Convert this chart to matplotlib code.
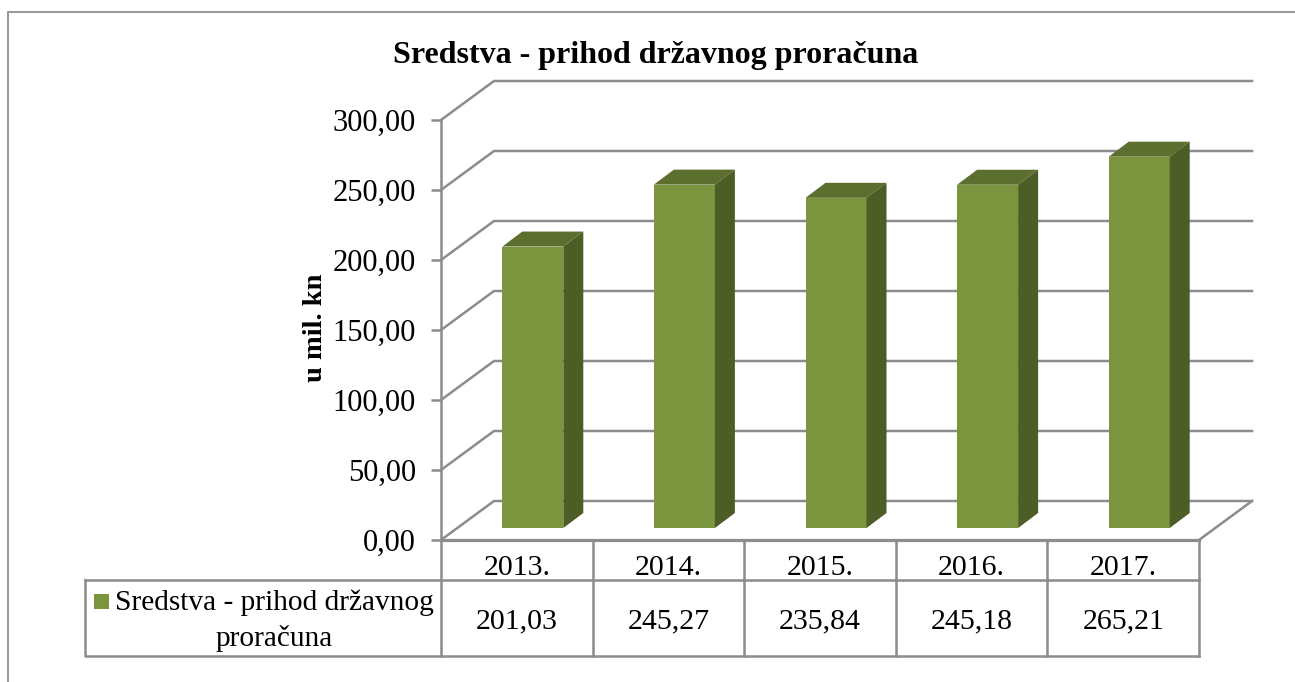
"""
Sredstva - prihod drzavnog proracuna: fake-3D column chart with data table
"""
import matplotlib
matplotlib.use('Agg')
import matplotlib.pyplot as plt
from matplotlib.patches import Polygon, Rectangle

plt.rcParams['font.family'] = ['Liberation Serif', 'DejaVu Serif']

years = ['2013.', '2014.', '2015.', '2016.', '2017.']
values = [201.03, 245.27, 235.84, 245.18, 265.21]
y_ticks = [0, 50, 100, 150, 200, 250, 300]
series_name = 'Sredstva - prihod državnog proračuna'
y_label = 'u mil. kn'

W, H = 1295, 682

# colours pulled from the target
C_FRONT = '#7a953d'
C_TOP = '#5c6f2e'
C_SIDE = '#4c5d26'
C_GRID = '#8c8c8c'

# plot box in pixels (front plane)
X0, X1, Y0, Y1 = 441, 1199, 540, 120
PX_X = (X1 - X0) / len(years)     # pixels per category
PX_Y = (Y0 - Y1) / y_ticks[-1]    # pixels per value unit

WALL_DX, WALL_DY = 53 / PX_X, 39 / PX_Y     # front plane -> back wall
BAR_DX, BAR_DY = 16 / PX_X, 12 / PX_Y       # front plane -> bar front
DEPTH_DX, DEPTH_DY = 20 / PX_X, 15 / PX_Y   # bar front -> bar back
BAR_W = 61 / PX_X
LW = 1.8


def fmt(v):
    return f'{v:.2f}'.replace('.', ',')


fig = plt.figure(figsize=(W / 100, H / 100), dpi=100, facecolor='white')

# overlay in pixel coordinates for frame and table
pg = fig.add_axes([0, 0, 1, 1], zorder=0)
pg.set_xlim(0, W)
pg.set_ylim(H, 0)
pg.axis('off')

ax = fig.add_axes([X0 / W, 1 - Y0 / H, (X1 - X0) / W, (Y0 - Y1) / H], zorder=1)
ax.patch.set_alpha(0)
ax.set_xlim(0, len(years))
ax.set_ylim(0, y_ticks[-1])
for name in ['top', 'right', 'bottom']:
    ax.spines[name].set_visible(False)
ax.spines['left'].set_color(C_GRID)
ax.spines['left'].set_linewidth(LW)
ax.set_xticks([])
ax.set_yticks(y_ticks)
ax.set_yticklabels([fmt(t) for t in y_ticks], fontsize=22)
ax.tick_params(axis='y', length=7, width=LW, color=C_GRID, pad=11)
ax.set_ylabel(y_label, fontsize=20.5, fontweight='bold')
ax.yaxis.set_label_coords(-0.149, 0.505)

# back wall + floor
for t in y_ticks:
    ax.plot([0, WALL_DX, len(years) + WALL_DX], [t, t + WALL_DY, t + WALL_DY],
            color=C_GRID, lw=LW, clip_on=False, zorder=1, solid_joinstyle='miter')
ax.plot([0, len(years)], [0, 0], color=C_GRID, lw=LW + 0.5, clip_on=False, zorder=1)
ax.plot([len(years), len(years) + WALL_DX], [0, WALL_DY],
        color=C_GRID, lw=LW, clip_on=False, zorder=1)

# bars
centers = [i + 0.5 + BAR_DX for i in range(len(years))]
ax.bar(centers, values, width=BAR_W, bottom=BAR_DY, color=C_FRONT, zorder=3, clip_on=False)
for c, v in zip(centers, values):
    left, right = c - BAR_W / 2, c + BAR_W / 2
    top = v + BAR_DY
    ax.add_patch(Polygon([(left, top), (right, top),
                          (right + DEPTH_DX, top + DEPTH_DY),
                          (left + DEPTH_DX, top + DEPTH_DY)],
                         facecolor=C_TOP, edgecolor='none', zorder=3, clip_on=False))
    ax.add_patch(Polygon([(right, BAR_DY), (right, top),
                          (right + DEPTH_DX, top + DEPTH_DY),
                          (right + DEPTH_DX, BAR_DY + DEPTH_DY)],
                         facecolor=C_SIDE, edgecolor='none', zorder=3, clip_on=False))

# outer frame
pg.plot([8, 8, W], [H, 11.5, 11.5], color='#9a9a9a', lw=1.5)

pg.text(656, 56, series_name, ha='center', va='center', fontsize=23, fontweight='bold')

# data table
ROW_TOP, ROW_MID, ROW_BOT = 540, 580, 656
TAB_LEFT = 85
col_x = [X0 + i * PX_X for i in range(len(years) + 1)]
for x in col_x:
    pg.plot([x, x], [ROW_TOP, ROW_BOT], color=C_GRID, lw=LW)
pg.plot([TAB_LEFT, X1], [ROW_MID, ROW_MID], color=C_GRID, lw=LW)
pg.plot([TAB_LEFT, TAB_LEFT, X1], [ROW_MID, ROW_BOT, ROW_BOT], color=C_GRID, lw=LW)

for i, (yr, v) in enumerate(zip(years, values)):
    cx = (col_x[i] + col_x[i + 1]) / 2
    pg.text(cx, 568, yr, ha='center', va='center', fontsize=21.5)
    pg.text(cx, 621, fmt(v), ha='center', va='center', fontsize=21.5)

pg.add_patch(Rectangle((94, 594), 15, 15, facecolor=C_FRONT, edgecolor='none'))
pg.text(274, 603, 'Sredstva - prihod državnog', ha='center', va='center', fontsize=21.2)
pg.text(274, 638, 'proračuna', ha='center', va='center', fontsize=21.2)

fig.savefig('out.png', dpi=100)
